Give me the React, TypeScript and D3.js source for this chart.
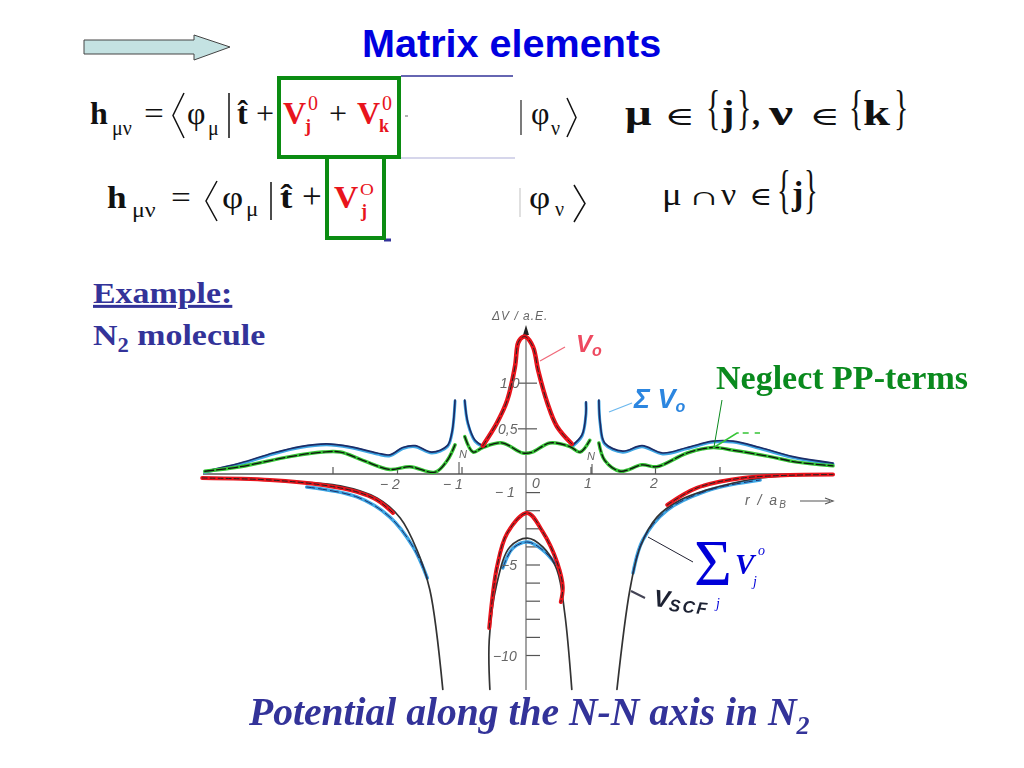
import React, { useRef, useEffect } from 'react';
import * as d3 from 'd3';

type Pt = [number, number];

// r in bohr, potential in a.E.
const v0Upper: Pt[] = [[-0.67, 0.31], [-0.45, 0.56], [-0.29, 0.81], [-0.17, 1.18], [-0.12, 1.44], [-0.05, 1.5], [0, 1.5], [0.11, 1.39], [0.19, 1.13], [0.33, 0.78], [0.48, 0.52], [0.71, 0.33]];
const sumLeftOuter: Pt[] = [[-4.98, 0.03], [-4.43, 0.12], [-3.92, 0.23], [-3.5, 0.3], [-3.09, 0.33], [-2.73, 0.3], [-2.31, 0.23], [-2.11, 0.21], [-1.91, 0.29], [-1.72, 0.31], [-1.46, 0.24], [-1.22, 0.31], [-1.15, 0.45], [-1.1, 0.81]];
const sumLeftInner: Pt[] = [[-0.95, 0.81], [-0.9, 0.56], [-0.79, 0.37], [-0.67, 0.31]];
const sumRightInner: Pt[] = [[0.73, 0.32], [0.87, 0.43], [0.93, 0.67], [0.93, 0.79]];
const sumRightOuter: Pt[] = [[1.13, 0.81], [1.15, 0.56], [1.22, 0.34], [1.5, 0.25], [1.8, 0.31], [2.12, 0.23], [2.5, 0.29], [2.9, 0.36], [3.21, 0.36], [3.63, 0.29], [4.14, 0.19], [4.76, 0.12]];
const ppLeft: Pt[] = [[-4.98, 0.03], [-4.43, 0.08], [-3.66, 0.19], [-3.15, 0.24], [-2.88, 0.24], [-2.53, 0.15], [-2.11, 0.05], [-1.8, 0.08], [-1.41, 0.02], [-1.22, 0.15], [-1.1, 0.32]];
const ppMiddle: Pt[] = [[-0.95, 0.41], [-0.82, 0.24], [-0.67, 0.29], [-0.37, 0.34], [-0.05, 0.23], [0.1, 0.24], [0.37, 0.34], [0.68, 0.3], [0.84, 0.24], [0.99, 0.37]];
const ppRight: Pt[] = [[1.13, 0.34], [1.22, 0.15], [1.46, 0.03], [1.8, 0.1], [2.03, 0.08], [2.5, 0.23], [2.9, 0.29], [3.21, 0.26], [3.78, 0.19], [4.2, 0.13], [4.76, 0.09]];

const v0LowLeft: Pt[] = [[-5.02, -0.22], [-3.97, -0.33], [-3.15, -0.61], [-2.62, -0.99], [-2.31, -1.44], [-2.06, -2.15]];
const v0LowRight: Pt[] = [[2.19, -1.71], [2.65, -0.77], [3.36, -0.22], [4.76, -0.03]];
const v0LowCenter: Pt[] = [[-0.57, -8.51], [-0.45, -5.14], [-0.29, -3.26], [0.02, -2.15], [0.26, -3.2], [0.48, -4.86], [0.57, -6.24], [0.54, -7.07]];
const scfLeft: Pt[] = [[-4.98, -0.22], [-3.81, -0.39], [-2.88, -0.66], [-2.31, -1.33], [-1.95, -2.43], [-1.69, -4.2], [-1.49, -6.41], [-1.29, -11.9]];
const scfRight: Pt[] = [[1.41, -11.9], [1.61, -6.41], [1.77, -4.03], [2.03, -2.38], [2.39, -1.44], [2.81, -0.88], [3.63, -0.22], [4.76, -0.03]];
const scfCenter: Pt[] = [[-0.56, -11.9], [-0.57, -9.17], [-0.45, -6.02], [-0.25, -4.03], [0.02, -3.54], [0.26, -4.03], [0.48, -5.3], [0.6, -7.68], [0.71, -11.9]];
const sumLowLeft: Pt[] = [[-3.4, -0.72], [-2.62, -1.27], [-2.11, -2.38], [-1.75, -4.03], [-1.53, -5.75]];
const sumLowRight: Pt[] = [[1.66, -5.47], [1.81, -3.65], [2.19, -1.99], [2.85, -0.88], [3.63, -0.33]];
const sumLowCenter: Pt[] = [[-0.36, -5.19], [-0.2, -4.09], [0.03, -3.76], [0.26, -4.2], [0.45, -4.92]];

const xTicks = [-3, -2, -1, 1, 2, 3];
const upperTicks = [0.5, 1];
const lowerTicks = [-1, -2, -3, -4, -5, -6, -7, -8, -9, -10];

const serif = '"Liberation Serif", "DejaVu Serif", serif';
const sans = '"Liberation Sans", sans-serif';
const navy = '#333399';
const red = '#e8141c';
const green = '#0a8a1e';
const eqColor = '#111';
const sky = '#3ea6e4';
const ink = '#1d2c66';

const x = d3.scaleLinear().domain([0, 1]).range([526, 590.5]);
const yUp = d3.scaleLinear().domain([0, 1.5]).range([474, 337]);
const yLow = d3.scaleLinear().domain([0, -10]).range([474, 655]);

const lineUp = d3.line<Pt>().x(d => x(d[0])).y(d => yUp(d[1])).curve(d3.curveCatmullRom);
const lineLow = d3.line<Pt>().x(d => x(d[0])).y(d => yLow(d[1])).curve(d3.curveCatmullRom);
const straight = d3.line();

// sx stretches a glyph sideways, the scanned formulas are wider than the font
const T = ({ x, y, s, sx, fw, fs, fill, ff, children, ...rest }: any) => (
  <text transform={`translate(${x},${y}) scale(${sx || 1},1)`} fontSize={s} fontWeight={fw} fontStyle={fs} fill={fill || eqColor} fontFamily={ff || serif} {...rest}>{children}</text>
);

const Bra = ({ px, top, bot, w }: any) => (
  <path d={straight([[px, top], [px + w, (top + bot) / 2], [px, bot]]) || ''} fill="none" stroke="#111" strokeWidth={1.5} />
);

const Curve = ({ d, color, width, dash, dy }: any) => (
  <path d={d || ''} fill="none" stroke={color} strokeWidth={width} strokeDasharray={dash} strokeLinecap="round" transform={dy ? `translate(0,${dy})` : undefined} />
);

export default function App() {
  const xAxisRef = useRef<SVGGElement | null>(null);
  const upRef = useRef<SVGGElement | null>(null);
  const upLeftRef = useRef<SVGGElement | null>(null);
  const lowRef = useRef<SVGGElement | null>(null);

  useEffect(() => {
    // Axis ticks are short and sit on the upper side of the r axis
    d3.select(xAxisRef.current!).call(d3.axisTop(x).tickValues(xTicks).tickSize(7).tickSizeOuter(0).tickFormat(() => ''));
    d3.select(upRef.current!).call(d3.axisRight(yUp).tickValues(upperTicks).tickSize(11).tickFormat(() => ''));
    d3.select(upLeftRef.current!).call(d3.axisLeft(yUp).tickValues(upperTicks).tickSize(8).tickFormat(() => ''));
    d3.select(lowRef.current!).call(d3.axisRight(yLow).tickValues(lowerTicks).tickSize(14).tickFormat(() => ''));
    d3.selectAll('.ax path').remove();
    d3.selectAll('.ax line').attr('stroke', '#555').attr('stroke-width', 1.2);
  }, []);

  const sumUpper = [sumLeftOuter, sumLeftInner, sumRightInner, sumRightOuter];

  return (
    <svg width={1024} height={768} style={{ position: 'absolute', left: 0, top: 0, background: '#fff' }}>
      {/* block arrow */}
      <path d="M84,40 L194,40 L194,35 L230,47 L194,60 L194,54 L84,54 Z" fill="#c4e2e2" stroke="#444" strokeWidth={1} />
      <T x={362} y={57} s={39.6} fw="bold" ff={sans} fill="#0000e0">Matrix elements</T>

      {/* first matrix element */}
      <T x={90} y={124} s={32} fw="bold">h</T>
      <T x={112} y={135} s={20}>μν</T>
      <T x={144} y={124} s={32} sx={1.1}>=</T>
      <Bra px={184} top={93} bot={138} w={-11} />
      <T x={187} y={124} s={32}>φ</T>
      <T x={208} y={135} s={20}>μ</T>
      <path d={straight([[229, 93], [229, 138]]) || ''} stroke="#111" strokeWidth={1.5} />
      <T x={237} y={124} s={32} fw="bold">t̂</T>
      <T x={256} y={124} s={32}>+</T>
      <T x={283} y={124} s={32} fw="bold" fill={red}>V</T>
      <T x={308} y={110} s={20} fill={red}>0</T>
      <T x={305} y={132} s={18} fw="bold" fill={red}>j</T>
      <T x={329} y={124} s={32}>+</T>
      <T x={357} y={124} s={32} fw="bold" fill={red}>V</T>
      <T x={382} y={110} s={20} fill={red}>0</T>
      <T x={379} y={132} s={18} fw="bold" fill={red}>k</T>
      <path d={straight([[405, 116], [408, 116]]) || ''} stroke="#666" />
      <path d={straight([[521, 100], [521, 135]]) || ''} stroke="#222" strokeWidth={1.2} />
      <T x={531} y={124} s={32}>φ</T>
      <T x={551} y={135} s={20}>ν</T>
      <Bra px={567} top={98} bot={137} w={9} />

      <T x={625} y={125} s={36} sx={1.3} fw="bold">μ</T>
      <T x={664} y={125} s={26} sx={1.6}>∈</T>
      <T x={706} y={124} s={48} sx={0.62}>{'{'}</T>
      <T x={722} y={125} s={36} fw="bold">j</T>
      <T x={737} y={124} s={48} sx={0.62}>{'}'}</T>
      <T x={752} y={125} s={32} fw="bold">,</T>
      <T x={769} y={125} s={36} sx={1.5} fw="bold">ν</T>
      <T x={809} y={125} s={26} sx={1.6}>∈</T>
      <T x={849} y={124} s={48} sx={0.62}>{'{'}</T>
      <T x={863} y={125} s={36} sx={1.35} fw="bold">k</T>
      <T x={894} y={124} s={48} sx={0.62}>{'}'}</T>

      {/* second matrix element */}
      <T x={107} y={208} s={32} sx={1.1} fw="bold">h</T>
      <T x={132} y={217} s={20} sx={1.2}>μν</T>
      <T x={171} y={208} s={32} sx={1.1}>=</T>
      <Bra px={217} top={181} bot={221} w={-11} />
      <T x={222} y={208} s={32} sx={1.15}>φ</T>
      <T x={246} y={216} s={20} sx={1.15}>μ</T>
      <path d={straight([[271, 182], [271, 220]]) || ''} stroke="#111" strokeWidth={1.5} />
      <T x={280} y={208} s={32} sx={1.15} fw="bold">t̂</T>
      <T x={302} y={208} s={35}>+</T>
      <T x={334} y={208} s={32} sx={1.05} fw="bold" fill={red}>V</T>
      <T x={360} y={195} s={16} sx={1.2} fill={red}>O</T>
      <T x={361} y={217} s={18} fw="bold" fill={red}>j</T>
      <path d={straight([[520, 188], [520, 217]]) || ''} stroke="#ccc" strokeWidth={1.2} />
      <T x={529} y={208} s={32} sx={1.15}>φ</T>
      <T x={555} y={216} s={20}>ν</T>
      <Bra px={574} top={185} bot={222} w={11} />

      <T x={662} y={205} s={32} sx={1.15}>μ</T>
      <T x={688} y={205} s={26} sx={1.7}>∩</T>
      <T x={721} y={205} s={32} sx={1.05}>ν</T>
      <T x={749} y={205} s={26} sx={1.2}>∈</T>
      <T x={777} y={207} s={52} sx={0.55}>{'{'}</T>
      <T x={792} y={205} s={34} fw="bold">j</T>
      <T x={804} y={207} s={52} sx={0.55}>{'}'}</T>

      {/* green boxes and remains of the crossed out terms */}
      <path d="M401,76 L513,76" stroke={navy} strokeWidth={1.5} />
      <path d="M401,158 L515,158" stroke="#c9c9e4" strokeWidth={1.5} />
      <path d="M384,240 L391,240" stroke={navy} strokeWidth={3} />
      <rect x={279} y={78} width={120} height={79} fill="none" stroke="#0b8c12" strokeWidth={4} />
      <rect x={327} y={157} width={57} height={81} fill="none" stroke="#0b8c12" strokeWidth={4} />

      <T x={93} y={303} s={30} sx={1.13} fw="bold" fill={navy} textDecoration="underline">Example:</T>
      <T x={93} y={345} s={30} sx={1.13} fw="bold" fill={navy}>N<tspan dy={7} fontSize={20}>2</tspan><tspan dy={-7}> molecule</tspan></T>

      {/* scanned plot */}
      <g style={{ filter: 'blur(0.35px)' }}>
        <g className="ax" ref={xAxisRef} transform="translate(0,474)" />
        <g className="ax" ref={upRef} transform="translate(526,0)" />
        <g className="ax" ref={upLeftRef} transform="translate(526,0)" />
        <g className="ax" ref={lowRef} transform="translate(526,0)" />
        <path d={straight([[203, 474], [833, 474]]) || ''} stroke="#555" strokeWidth={1.3} />
        <path d={straight([[526, 335], [526, 690]]) || ''} stroke="#666" strokeWidth={1.2} />
        <path d="M526,325 L523,335 L529,335 Z" fill="#222" />

        {sumUpper.map((c, i) => <Curve key={i} d={lineUp(c)} color={sky} width={3} dy={1} />)}
        {sumUpper.map((c, i) => <Curve key={i} d={lineUp(c)} color={ink} width={1.7} />)}

        {[ppLeft, ppMiddle, ppRight].map((c, i) => (
          <g key={i}>
            <Curve d={lineUp(c)} color="#35c435" width={3.5} />
            <Curve d={lineUp(c)} color="#111" width={1.3} dash="9 3" />
          </g>
        ))}
        <Curve d={lineUp(v0Upper)} color={red} width={4.5} />
        <Curve d={lineUp(v0Upper)} color="#222" width={1} dash="6 3" />

        {[sumLowLeft, sumLowRight, sumLowCenter].map((c, i) => (
          <Curve key={i} d={lineLow(c)} color={sky} width={3.5} />
        ))}
        {[scfLeft, scfRight, scfCenter].map((c, i) => (
          <Curve key={i} d={lineLow(c)} color="#333" width={1.7} />
        ))}
        {[v0LowLeft, v0LowRight, v0LowCenter].map((c, i) => (
          <g key={i}>
            <Curve d={lineLow(c)} color={red} width={4} />
            <Curve d={lineLow(c)} color="#222" width={1} dash="5 3" />
          </g>
        ))}
        {[sumLowLeft, sumLowRight, sumLowCenter].map((c, i) => (
          <Curve key={i} d={lineLow(c)} color={ink} width={1} dash="8 4" />
        ))}

        <g fontFamily={sans} fontStyle="italic" fill="#666">
          <text x={492} y={320} fontSize={12} letterSpacing={1}>ΔV / a.E.</text>
          <text x={500} y={388} fontSize={14}>1,0</text>
          <text x={498} y={434} fontSize={14}>0,5</text>
          <text x={380} y={489} fontSize={14}>− 2</text>
          <text x={443} y={489} fontSize={14}>− 1</text>
          <text x={495} y={497} fontSize={14}>− 1</text>
          <text x={532} y={488} fontSize={14}>0</text>
          <text x={584} y={488} fontSize={14}>1</text>
          <text x={650} y={488} fontSize={14}>2</text>
          <text x={501} y={570} fontSize={14}>−5</text>
          <text x={493} y={661} fontSize={14}>−10</text>
          <text x={745} y={505} fontSize={14} letterSpacing={2}>r / a<tspan dy={3} fontSize={10}>B</tspan></text>
          <text x={459} y={458} fontSize={11}>N</text>
          <text x={587} y={460} fontSize={11}>N</text>
        </g>
        <path d="M800,501 L830,501 M825,498 L833,501 L825,504" stroke="#555" fill="none" strokeWidth={1.2} />
        <path d="M459,462 L459,474 M592,464 L592,474" stroke="#444" strokeWidth={1} />

        {/* handwritten notes */}
        <path d="M540,361 L565,347" stroke="#f06a7a" strokeWidth={1.3} />
        <T x={576} y={352} s={24} fs="italic" fw="bold" ff={sans} fill="#ee4a60">V<tspan dy={4} fontSize={16}>o</tspan></T>
        <path d="M609,412 L632,403" stroke="#6cb8ee" strokeWidth={1.3} />
        <T x={634} y={408} s={27} fs="italic" fw="bold" ff={sans} fill="#2c86e0">Σ V<tspan dy={4} fontSize={16}>o</tspan></T>
        <path d="M631,591 L645,598" stroke="#445" strokeWidth={2} />
        <g transform="rotate(6 653 606)">
          <T x={653} y={606} s={24} fs="italic" fw="bold" ff={sans} fill="#1d2233">V<tspan dy={3} fontSize={17} letterSpacing={2}>SCF</tspan></T>
        </g>
      </g>

      {/* overlays */}
      <path d="M713,448 L737,433 L760,433" fill="none" stroke="#35c435" strokeWidth={1.5} strokeDasharray="30 4 6 6 6 6" />
      <path d="M722,400 L714,447" stroke={green} strokeWidth={1} />
      <T x={716} y={389} s={34} fw="bold" fill={green}>Neglect PP-terms</T>
      <path d="M648,537 L693,562" stroke="#223" strokeWidth={1} />
      <T x={694} y={585} s={65} fill="#0000d8">Σ</T>
      <T x={735} y={574} s={29} fs="italic" fw="bold" fill="#0000d8">V</T>
      <T x={758} y={555} s={14} fs="italic" fill="#0000d8">o</T>
      <T x={753} y={586} s={14} fs="italic" fill="#0000d8">j</T>
      <T x={716} y={608} s={14} fs="italic" fill="#0000d8">j</T>

      <T x={249} y={725} s={39.6} fw="bold" fs="italic" fill={navy}>Potential along the N-N axis in N<tspan dy={9} fontSize={26}>2</tspan></T>
    </svg>
  );
}
